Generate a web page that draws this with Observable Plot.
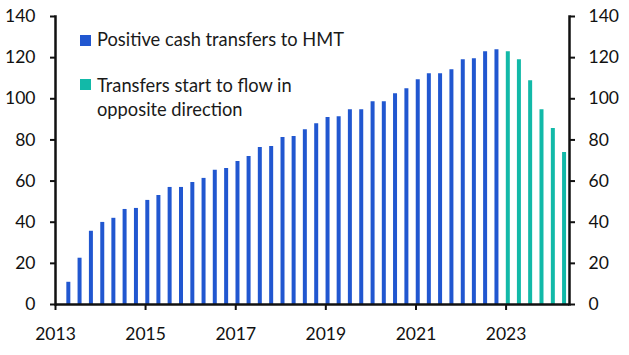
<!DOCTYPE html>
<html><head><meta charset="utf-8">
<script src="https://cdn.jsdelivr.net/npm/d3@7"></script>
<script src="https://cdn.jsdelivr.net/npm/@observablehq/plot@0.6"></script>
<style>
body{margin:0;background:#fff;}
#wrap{position:relative;width:629px;height:355px;font-family:Lato,sans-serif;}
.leg{position:absolute;font-size:18.3px;color:#1a1a1a;line-height:24px;white-space:nowrap;}
.sw{position:absolute;width:11px;height:11px;}
</style></head><body><div id="wrap"></div>
<script>
const quarters = ["2013-04","2013-07","2013-10",
  "2014-01","2014-04","2014-07","2014-10",
  "2015-01","2015-04","2015-07","2015-10",
  "2016-01","2016-04","2016-07","2016-10",
  "2017-01","2017-04","2017-07","2017-10",
  "2018-01","2018-04","2018-07","2018-10",
  "2019-01","2019-04","2019-07","2019-10",
  "2020-01","2020-04","2020-07","2020-10",
  "2021-01","2021-04","2021-07","2021-10",
  "2022-01","2022-04","2022-07","2022-10",
  "2023-01","2023-04","2023-07","2023-10",
  "2024-01","2024-04"];
const positiveTransfers = [10.8,22.5,35.6,39.9,41.9,46.2,46.7,50.6,53.0,56.9,56.9,59.3,61.3,65.2,66.1,69.5,71.9,76.3,76.8,81.2,81.7,85.0,87.9,90.9,91.3,94.7,94.7,98.6,98.6,102.5,104.9,109.3,112.2,112.2,114.1,119.0,119.5,122.9,123.8];
const reverseTransfers = [122.9,119.0,108.8,94.7,85.5,73.9];
const seriesNames = ["Positive cash transfers to HMT","Transfers start to flow in opposite direction"];
const seriesColors = ["#2157d0","#12b9a8"];
const yTicks = [0,20,40,60,80,100,120,140];
const xTickYears = [2013,2015,2017,2019,2021,2023];

const rows = quarters.map((q,i)=>{
  const pos = i < positiveTransfers.length;
  return {date:new Date(q+"-15"), value: pos ? positiveTransfers[i] : reverseTransfers[i-positiveTransfers.length], series: pos ? seriesNames[0] : seriesNames[1]};
});

const chart = Plot.plot({
  width:629, height:355, marginLeft:55, marginRight:60, marginTop:16, marginBottom:51,
  style:{fontFamily:"Lato, sans-serif", fontSize:"17.5px", color:"#111", background:"#fff"},
  x:{type:"utc", domain:[new Date("2013-01-01"), new Date("2024-05-29")]},
  y:{domain:[0,140]},
  color:{domain:seriesNames, range:seriesColors},
  marks:[
    Plot.ruleX(rows,{x:"date", y1:0, y2:"value", stroke:"series", strokeWidth:4}),
    Plot.axisY({anchor:"left", ticks:yTicks, tickSize:5, tickPadding:15, strokeWidth:2, label:null}),
    Plot.axisY({anchor:"right", ticks:yTicks, tickSize:5, tickPadding:14, strokeWidth:2, label:null}),
    Plot.axisX({ticks: xTickYears.map(y=>new Date(Date.UTC(y,0,1))), tickFormat:d3.utcFormat("%Y"), tickSize:6, tickPadding:17, strokeWidth:2, label:null}),
    Plot.frame({anchor:"left", strokeWidth:2.5}),
    Plot.frame({anchor:"right", strokeWidth:2.5}),
    Plot.ruleY([0], {strokeWidth:2.5})
  ]
});
const wrap = document.getElementById("wrap");
wrap.appendChild(chart);

const legendItems = [
  {name: "Positive cash transfers to HMT", color: seriesColors[0], sw:[80,35], txt:[97,26.5]},
  {name: "Transfers start to flow in<br>opposite direction", color: seriesColors[1], sw:[80,79], txt:[97,72.5]}
];
legendItems.forEach(it=>{
  const s = document.createElement("div"); s.className="sw";
  s.style.left=it.sw[0]+"px"; s.style.top=it.sw[1]+"px"; s.style.background=it.color;
  wrap.appendChild(s);
  const t = document.createElement("div"); t.className="leg";
  t.style.left=it.txt[0]+"px"; t.style.top=it.txt[1]+"px"; t.innerHTML=it.name;
  wrap.appendChild(t);
});
</script></body></html>
